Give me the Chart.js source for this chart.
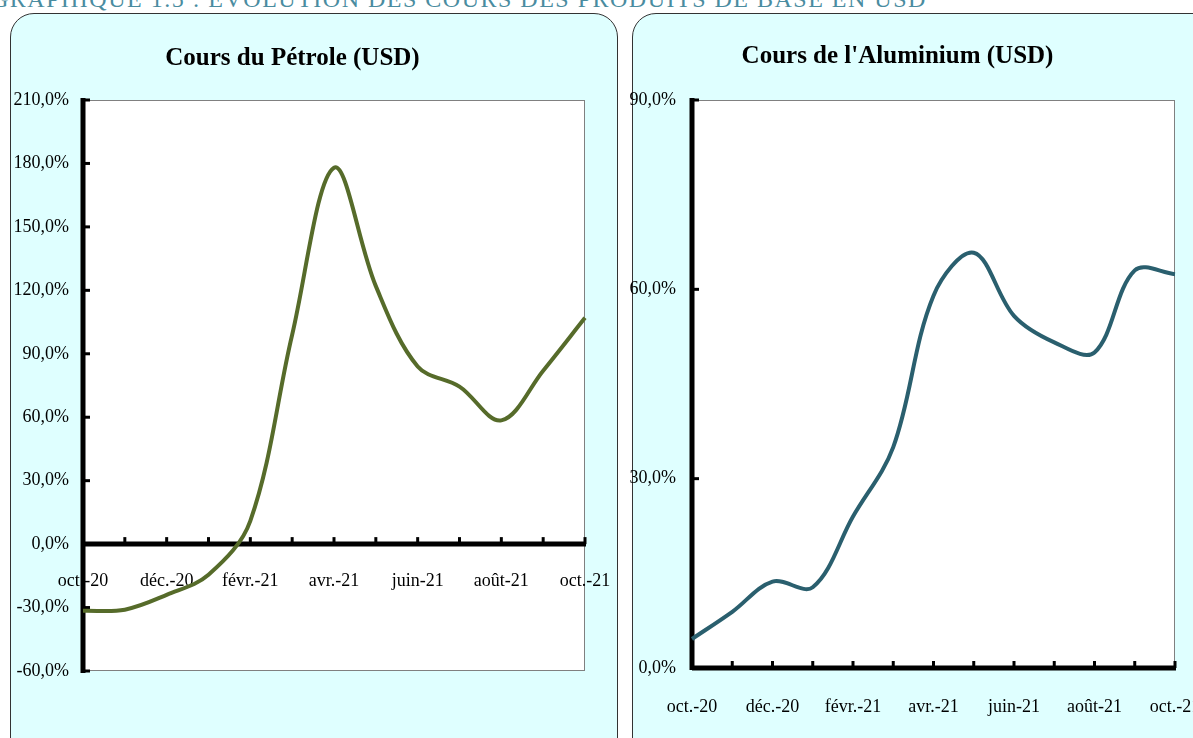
<!DOCTYPE html>
<html lang="fr">
<head>
<meta charset="utf-8">
<title>Graphique 1.5 : Évolution des cours des produits de base en USD</title>
<script src="https://cdn.jsdelivr.net/npm/chart.js@4.4.1/dist/chart.umd.min.js"></script>
<style>
  html, body { margin: 0; padding: 0; background: #fff; }
  body { width: 1193px; height: 738px; overflow: hidden; position: relative; font-family: 'Liberation Serif', serif; }
  #header {
    position: absolute; left: -9px; top: -13px; white-space: nowrap;
    font-size: 24px; line-height: 24px; color: #4a8ca0; letter-spacing: 1.5px;
  }
  .panel {
    position: absolute; top: 13px; height: 760px;
    background: #dfffff; border: 1px solid #333; border-radius: 24px;
  }
  #panelOil { left: 10px; width: 606px; }
  #panelAlu { left: 632px; width: 600px; }
  canvas { position: absolute; top: 0; }
  #oilChart { left: 0; }
  #aluChart { left: 620px; }
</style>
</head>
<body>
<div id="header">GRAPHIQUE 1.5 : ÉVOLUTION DES COURS DES PRODUITS DE BASE EN USD</div>
<div class="panel" id="panelOil"></div>
<div class="panel" id="panelAlu"></div>
<canvas id="oilChart" width="712" height="738"></canvas>
<canvas id="aluChart" width="646" height="738"></canvas>
<script>
// mois (oct. 2020 -> oct. 2021)
const months = ['oct.-20', 'nov.-20', 'déc.-20', 'janv.-21', 'févr.-21', 'mars-21', 'avr.-21',
                'mai-21', 'juin-21', 'juil.-21', 'août-21', 'sept.-21', 'oct.-21'];
// étiquettes affichées (un mois sur deux)
const shownLabels = ['oct.-20', 'déc.-20', 'févr.-21', 'avr.-21', 'juin-21', 'août-21', 'oct.-21'];

// variation en glissement annuel (%)
const oilValues = [-31.5, -31, -24, -14.5, 11, 99, 178, 122, 84, 74.5, 58.5, 82, 107];
const aluValues = [4.6, 8.9, 13.7, 12.8, 24, 35, 59, 65.8, 55.8, 51.6, 50, 63, 62.4];

// graduations de l'axe Y
const oilTicks = [-60, -30, 0, 30, 60, 90, 120, 150, 180, 210];
const aluTicks = [0, 30, 60, 90];

const fontFamily = "'Liberation Serif', 'DejaVu Serif', serif";

function pct(v) {
  return v.toFixed(1).replace('.', ',') + '%';
}

// fond blanc de la zone de tracé, axes épais et petites graduations vers l'intérieur
const plotDecor = {
  id: 'plotDecor',
  beforeDraw(chart) {
    const { ctx, chartArea: a } = chart;
    ctx.save();
    ctx.fillStyle = '#ffffff';
    ctx.fillRect(a.left, a.top, a.width, a.height);
    ctx.strokeStyle = '#808080';
    ctx.lineWidth = 1;
    ctx.strokeRect(a.left + 0.5, a.top + 0.5, a.width - 1, a.height - 1);
    ctx.restore();
  },
  beforeDatasetsDraw(chart) {
    const { ctx, chartArea: a, scales } = chart;
    const xs = scales.x, ys = scales.y;
    const axisY = ys.getPixelForValue(Math.max(0, ys.min));
    const axisX = a.left;
    ctx.save();
    ctx.strokeStyle = '#000';
    ctx.lineCap = 'butt';
    // axe vertical
    ctx.lineWidth = 5;
    ctx.beginPath();
    ctx.moveTo(axisX, a.top - 2);
    ctx.lineTo(axisX, a.bottom + 2);
    ctx.stroke();
    // axe horizontal
    ctx.beginPath();
    ctx.moveTo(a.left, axisY);
    ctx.lineTo(a.right + 1, axisY);
    ctx.stroke();
    // graduations
    ctx.lineWidth = 3;
    months.forEach((m, i) => {
      const px = xs.getPixelForValue(i);
      ctx.beginPath();
      ctx.moveTo(px, axisY);
      ctx.lineTo(px, axisY - 7);
      ctx.stroke();
    });
    ys.ticks.forEach(t => {
      const py = ys.getPixelForValue(t.value);
      ctx.beginPath();
      ctx.moveTo(axisX, py);
      ctx.lineTo(axisX + 7, py);
      ctx.stroke();
    });
    ctx.restore();
  }
};

function buildChart(canvasId, title, values, ticks, color, opts) {
  const ctx = document.getElementById(canvasId);
  return new Chart(ctx, {
    type: 'line',
    data: {
      labels: months,
      datasets: [{
        data: values,
        borderColor: color,
        borderWidth: 4,
        tension: 0.35,
        pointRadius: 0,
        fill: false
      }]
    },
    options: {
      responsive: false,
      animation: false,
      devicePixelRatio: 1,
      layout: { padding: opts.padding },
      plugins: {
        legend: { display: false },
        tooltip: { enabled: false },
        title: {
          display: true,
          text: title,
          color: '#000',
          font: { family: fontFamily, size: 25, weight: 'bold', lineHeight: 1.2 },
          padding: opts.titlePadding
        }
      },
      scales: {
        x: {
          type: 'category',
          position: opts.xPosition,
          offset: false,
          grid: { display: false, drawTicks: false },
          border: { display: false },
          ticks: {
            autoSkip: false,
            maxRotation: 0,
            padding: opts.xPad,
            color: '#000',
            font: { family: fontFamily, size: 18 },
            callback: (v, i) => shownLabels.includes(months[i]) ? months[i] : ''
          },
          afterFit: opts.xFit
        },
        y: {
          min: ticks[0],
          max: ticks[ticks.length - 1],
          grid: { display: false, drawTicks: false },
          border: { display: false },
          afterBuildTicks: scale => { scale.ticks = ticks.map(v => ({ value: v })); },
          ticks: {
            padding: opts.yPad,
            color: '#000',
            font: { family: fontFamily, size: 18 },
            callback: v => pct(v)
          },
          afterFit: scale => { scale.width = opts.yWidth; }
        }
      }
    },
    plugins: [plotDecor]
  });
}

document.addEventListener('DOMContentLoaded', () => {
  buildChart('oilChart', 'Cours du Pétrole (USD)', oilValues, oilTicks, '#566b2a', {
    padding: { left: 0, right: 127, top: 0, bottom: 67 },
    titlePadding: { top: 44, bottom: 26 },
    xPosition: { y: 0 },
    xPad: 26,
    yPad: 14,
    yWidth: 83,
    xFit: null
  });
  buildChart('aluChart', "Cours de l'Aluminium (USD)", aluValues, aluTicks, '#2a5f6e', {
    padding: { left: 0, right: 91, top: 0, bottom: 20 },
    titlePadding: { top: 42, bottom: 28 },
    xPosition: 'bottom',
    xPad: 28,
    yPad: 16,
    yWidth: 72,
    xFit: scale => { scale.height = 50; }
  });
});
</script>
</body>
</html>
